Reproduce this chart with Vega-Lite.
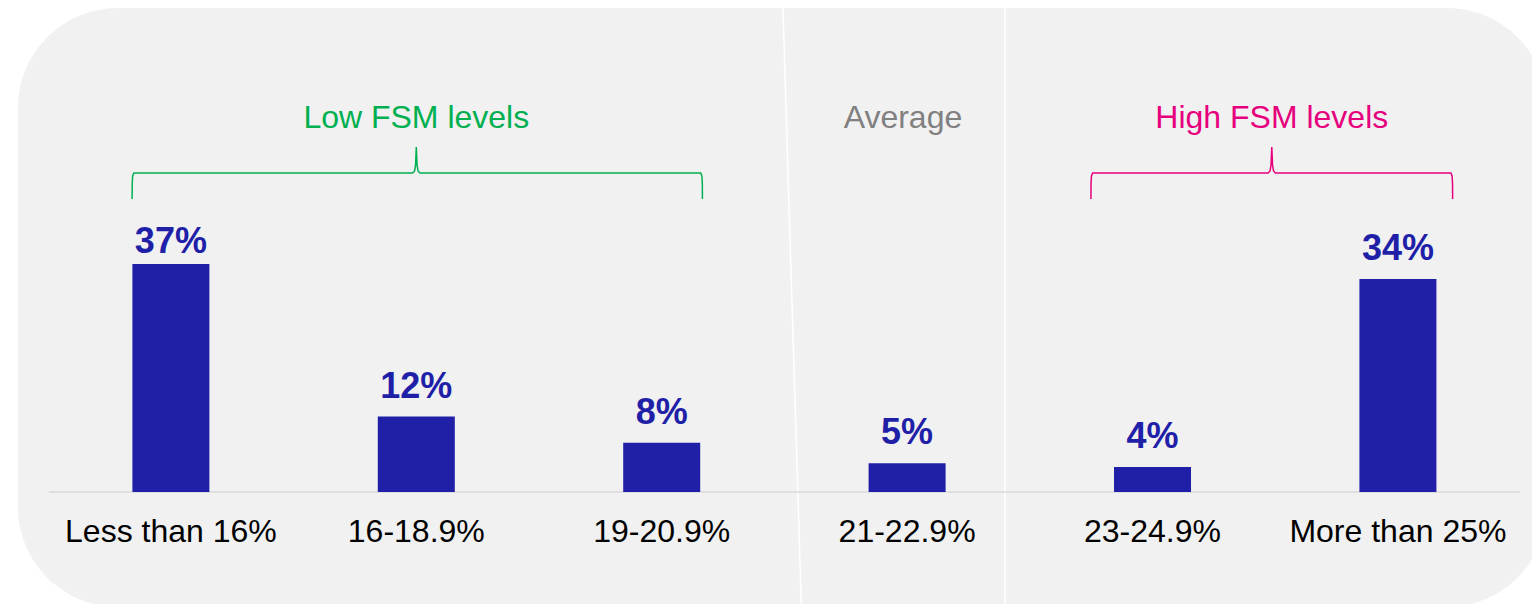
{
  "$schema": "https://vega.github.io/schema/vega-lite/v6.json",
  "width": 1532,
  "height": 604,
  "autosize": {"type": "none"},
  "padding": 0,
  "background": "white",
  "config": {"view": {"stroke": null}, "axis": {"disable": true}, "font": "Liberation Sans"},
  "datasets": {
    "bars": [
      {"cat": "Less than 16%", "i": 0, "share": 0.366},
      {"cat": "16-18.9%", "i": 1, "share": 0.121},
      {"cat": "19-20.9%", "i": 2, "share": 0.079},
      {"cat": "21-22.9%", "i": 3, "share": 0.046},
      {"cat": "23-24.9%", "i": 4, "share": 0.040},
      {"cat": "More than 25%", "i": 5, "share": 0.342}
    ],
    "groups": [
      {"label": "Low FSM levels", "pos": 1.0},
      {"label": "Average", "pos": 2.983},
      {"label": "High FSM levels", "pos": 4.486}
    ],
    "brackets": [
      {"b": "Low FSM levels", "o": 1, "bx": -0.158, "by": 0.4705},
      {"b": "Low FSM levels", "o": 2, "bx": -0.1575, "by": 0.495},
      {"b": "Low FSM levels", "o": 3, "bx": -0.156, "by": 0.507},
      {"b": "Low FSM levels", "o": 4, "bx": -0.151, "by": 0.5123},
      {"b": "Low FSM levels", "o": 5, "bx": 0.985, "by": 0.5123},
      {"b": "Low FSM levels", "o": 6, "bx": 0.993, "by": 0.5155},
      {"b": "Low FSM levels", "o": 7, "bx": 0.997, "by": 0.525},
      {"b": "Low FSM levels", "o": 8, "bx": 1.0, "by": 0.554},
      {"b": "Low FSM levels", "o": 9, "bx": 1.003, "by": 0.525},
      {"b": "Low FSM levels", "o": 10, "bx": 1.007, "by": 0.5155},
      {"b": "Low FSM levels", "o": 11, "bx": 1.015, "by": 0.5123},
      {"b": "Low FSM levels", "o": 12, "bx": 2.159, "by": 0.5123},
      {"b": "Low FSM levels", "o": 13, "bx": 2.164, "by": 0.507},
      {"b": "Low FSM levels", "o": 14, "bx": 2.1655, "by": 0.495},
      {"b": "Low FSM levels", "o": 15, "bx": 2.166, "by": 0.4705},
      {"b": "High FSM levels", "o": 1, "bx": 3.749, "by": 0.4705},
      {"b": "High FSM levels", "o": 2, "bx": 3.7495, "by": 0.495},
      {"b": "High FSM levels", "o": 3, "bx": 3.751, "by": 0.507},
      {"b": "High FSM levels", "o": 4, "bx": 3.756, "by": 0.5123},
      {"b": "High FSM levels", "o": 5, "bx": 4.471, "by": 0.5123},
      {"b": "High FSM levels", "o": 6, "bx": 4.479, "by": 0.5155},
      {"b": "High FSM levels", "o": 7, "bx": 4.483, "by": 0.525},
      {"b": "High FSM levels", "o": 8, "bx": 4.486, "by": 0.554},
      {"b": "High FSM levels", "o": 9, "bx": 4.489, "by": 0.525},
      {"b": "High FSM levels", "o": 10, "bx": 4.493, "by": 0.5155},
      {"b": "High FSM levels", "o": 11, "bx": 4.501, "by": 0.5123},
      {"b": "High FSM levels", "o": 12, "bx": 5.216, "by": 0.5123},
      {"b": "High FSM levels", "o": 13, "bx": 5.221, "by": 0.507},
      {"b": "High FSM levels", "o": 14, "bx": 5.2225, "by": 0.495},
      {"b": "High FSM levels", "o": 15, "bx": 5.223, "by": 0.4705}
    ]
  },
  "layer": [
    {
      "data": {"values": [{}]},
      "mark": {"type": "rect", "color": "#f1f1f1", "cornerRadius": 100, "clip": true},
      "encoding": {
        "x": {"datum": -0.6235, "type": "quantitative", "scale": {"domain": [-0.676, 5.526], "nice": false, "zero": false}, "axis": null},
        "x2": {"datum": 5.607},
        "y": {"datum": 0.7773, "type": "quantitative", "scale": {"domain": [-0.18, 0.79], "nice": false, "zero": false}, "axis": null},
        "y2": {"datum": -0.1847}
      }
    },
    {
      "data": {"values": [{}]},
      "mark": {"type": "rule", "color": "white", "strokeWidth": 1.5, "clip": true},
      "encoding": {
        "x": {"datum": 2.494, "type": "quantitative"},
        "x2": {"datum": 2.5687},
        "y": {"datum": 0.7773, "type": "quantitative"},
        "y2": {"datum": -0.18}
      }
    },
    {
      "data": {"values": [{}]},
      "mark": {"type": "rule", "color": "white", "strokeWidth": 1.5, "clip": true},
      "encoding": {
        "x": {"datum": 3.3985, "type": "quantitative"},
        "y": {"datum": 0.7773, "type": "quantitative"},
        "y2": {"datum": -0.18}
      }
    },
    {
      "data": {"values": [{}]},
      "mark": {"type": "rule", "color": "#d9d9d9", "strokeWidth": 1.5},
      "encoding": {
        "x": {"datum": -0.498, "type": "quantitative"},
        "x2": {"datum": 5.498},
        "y": {"datum": 0, "type": "quantitative"}
      }
    },
    {
      "data": {"name": "bars"},
      "mark": {"type": "bar", "color": "#1f1fa8", "width": 77},
      "encoding": {
        "x": {"field": "i", "type": "quantitative"},
        "y": {"field": "share", "type": "quantitative"}
      }
    },
    {
      "data": {"name": "bars"},
      "transform": [{"filter": "datum.i != 0"}],
      "mark": {"type": "text", "color": "#1f1fa8", "fontSize": 36, "fontWeight": "bold", "baseline": "alphabetic", "align": "center", "dy": -19},
      "encoding": {
        "x": {"field": "i", "type": "quantitative"},
        "y": {"field": "share", "type": "quantitative"},
        "text": {"field": "share", "type": "quantitative", "format": ".0%"}
      }
    },
    {
      "data": {"name": "bars"},
      "transform": [{"filter": "datum.i == 0"}],
      "mark": {"type": "text", "color": "#1f1fa8", "fontSize": 36, "fontWeight": "bold", "baseline": "alphabetic", "align": "center", "dy": -11},
      "encoding": {
        "x": {"field": "i", "type": "quantitative"},
        "y": {"field": "share", "type": "quantitative"},
        "text": {"field": "share", "type": "quantitative", "format": ".0%"}
      }
    },
    {
      "data": {"name": "bars"},
      "mark": {"type": "text", "color": "#000000", "fontSize": 32, "baseline": "alphabetic", "align": "center"},
      "encoding": {
        "x": {"field": "i", "type": "quantitative"},
        "y": {"datum": -0.08, "type": "quantitative"},
        "text": {"field": "cat", "type": "nominal"}
      }
    },
    {
      "data": {"name": "groups"},
      "mark": {"type": "text", "fontSize": 32, "baseline": "alphabetic", "align": "center"},
      "encoding": {
        "x": {"field": "pos", "type": "quantitative"},
        "y": {"datum": 0.584, "type": "quantitative"},
        "text": {"field": "label", "type": "nominal"},
        "color": {"field": "label", "type": "nominal", "scale": {"domain": ["Low FSM levels", "Average", "High FSM levels"], "range": ["#00b050", "#808080", "#e6007e"]}, "legend": null}
      }
    },
    {
      "data": {"name": "brackets"},
      "mark": {"type": "line", "strokeWidth": 1.5},
      "encoding": {
        "x": {"field": "bx", "type": "quantitative"},
        "y": {"field": "by", "type": "quantitative"},
        "order": {"field": "o", "type": "quantitative"},
        "color": {"field": "b", "type": "nominal", "legend": null}
      }
    }
  ]
}
